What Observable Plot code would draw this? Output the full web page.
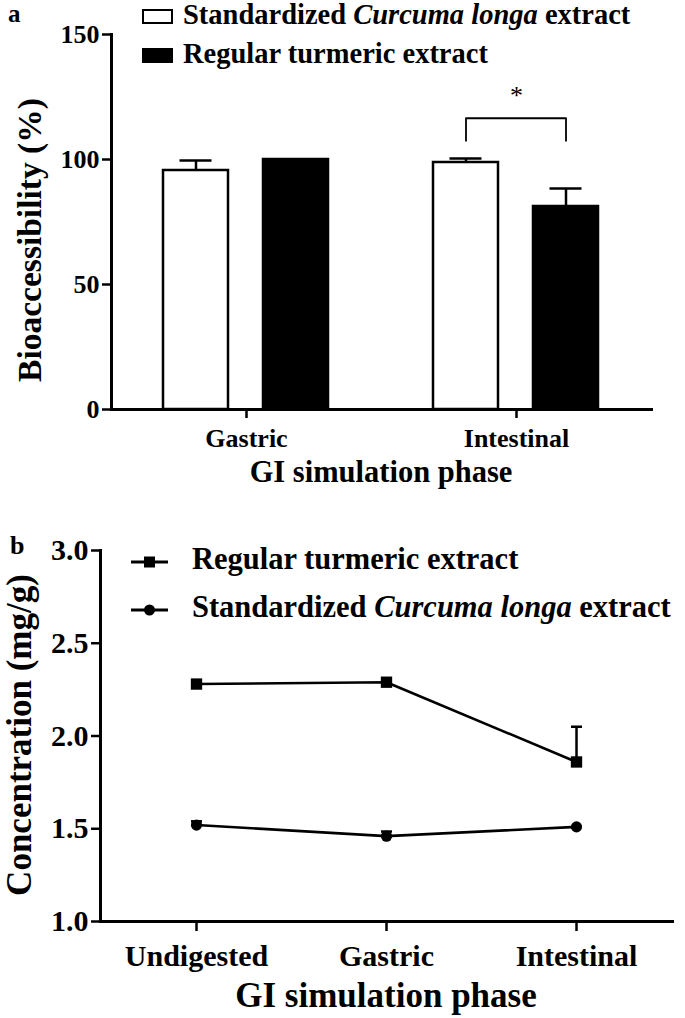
<!DOCTYPE html>
<html><head><meta charset="utf-8">
<script src="https://cdn.jsdelivr.net/npm/d3@7"></script>
<script src="https://cdn.jsdelivr.net/npm/@observablehq/plot@0.6"></script>
<style>
html,body{margin:0;padding:0;background:#fff;}
#wrap{position:relative;width:685px;height:1018px;overflow:hidden;font-family:"Liberation Serif","Times New Roman",serif;font-weight:bold;color:#000;}
.abs{position:absolute;white-space:nowrap;line-height:1.15;}
.box{position:absolute;box-sizing:border-box;border:2.5px solid #000;}
</style></head><body><div id="wrap"></div>
<script>
// ---- Panel a data ----
const phasesA = ["Gastric", "Intestinal"];
const seriesA = ["Standardized", "Regular"];
const stdMeanA = [95.6, 98.8];
const stdSdA = [4.0, 1.6];
const regMeanA = [100, 81.2];
const regSdA = [0, 7.2];
const yTicksA = [0, 50, 100, 150];
const bracketLowA = 107.5, bracketHighA = 116.5, starA = 125.5;

// ---- Panel b data ----
const phasesB = ["Undigested", "Gastric", "Intestinal"];
const regMeanB = [2.28, 2.29, 1.86];
const regSdB = [0.01, 0.01, 0.19];
const stdMeanB = [1.52, 1.46, 1.51];
const stdSdB = [0.02, 0.025, 0];
const yTicksB = [1.0, 1.5, 2.0, 2.5, 3.0];

const FONT = '"Liberation Serif","Times New Roman",serif';
const wrap = document.getElementById("wrap");

const dataA = phasesA.flatMap((p, i) => [
  {phase: p, series: "Standardized", mean: stdMeanA[i], sd: stdSdA[i]},
  {phase: p, series: "Regular", mean: regMeanA[i], sd: regSdA[i]}
]);
const errA = dataA.filter(d => d.sd > 0);
const bracket = [
  {phase: "Intestinal", series: "Standardized", y: bracketLowA},
  {phase: "Intestinal", series: "Standardized", y: bracketHighA},
  {phase: "Intestinal", series: "Regular", y: bracketHighA},
  {phase: "Intestinal", series: "Regular", y: bracketLowA}
];

const plotA = Plot.plot({
  width: 685, height: 500,
  marginLeft: 111, marginRight: 34, marginTop: 34, marginBottom: 91,
  style: {fontFamily: FONT, fontWeight: "bold", fontSize: "26px", color: "black", background: "transparent"},
  fx: {domain: phasesA, padding: 0, axis: null, label: null},
  x: {domain: seriesA, paddingInner: 0.3465, paddingOuter: 0.51, axis: null},
  y: {domain: [0, 150], axis: null},
  color: {domain: seriesA, range: ["white", "black"]},
  marks: [
    Plot.barY(dataA, {fx: "phase", x: "series", y: "mean", fill: "series", stroke: "black", strokeWidth: 2.5, inset: 0}),
    Plot.ruleX(errA, {fx: "phase", x: "series", y1: "mean", y2: d => d.mean + d.sd, stroke: "black", strokeWidth: 2.5}),
    Plot.tickY(errA, {fx: "phase", x: "series", y: d => d.mean + d.sd, stroke: "black", strokeWidth: 2.5, insetLeft: 16.5, insetRight: 16.5}),
    Plot.line(bracket, {fx: "phase", x: "series", y: "y", stroke: "black", strokeWidth: 1.8}),
    Plot.text([{phase: "Intestinal"}], {fx: "phase", y: () => starA, text: () => "*", fontSize: 26, fontWeight: "normal"}),
    Plot.frame({anchor: "bottom", stroke: "black", strokeWidth: 3, strokeLinecap: "square"}),
    Plot.frame({anchor: "left", stroke: "black", strokeWidth: 3, strokeLinecap: "square", facetAnchor: "left"}),
    Plot.axisY({ticks: yTicksA, tickSize: 9, tickPadding: 3, stroke: "black", strokeWidth: 2.5, fontSize: 26, label: null}),
    Plot.axisFx({anchor: "bottom", tickSize: 9, tickPadding: 10, stroke: "black", strokeWidth: 2.5, fontSize: 26, label: null})
  ]
});
plotA.style.position = "absolute";
plotA.style.left = "0px";
plotA.style.top = "0px";
wrap.appendChild(plotA);

// ---- Panel b ----
const dataB = phasesB.flatMap((p, i) => [
  {phase: p, series: "Regular", mean: regMeanB[i], sd: regSdB[i]},
  {phase: p, series: "Standardized", mean: stdMeanB[i], sd: stdSdB[i]}
]);
const errB = dataB.filter(d => d.sd > 0);
const capSymbol = {draw(ctx) { ctx.moveTo(-5.5, 0); ctx.lineTo(5.5, 0); }};

const plotB = Plot.plot({
  width: 685, height: 518,
  marginLeft: 100, marginRight: 13, marginTop: 50, marginBottom: 97,
  style: {fontFamily: FONT, fontWeight: "bold", fontSize: "30px", color: "black", background: "transparent"},
  x: {type: "point", domain: phasesB, padding: 0.5, axis: null},
  y: {domain: [1, 3], axis: null},
  marks: [
    Plot.ruleX(errB, {x: "phase", y1: "mean", y2: d => d.mean + d.sd, stroke: "black", strokeWidth: 2.5}),
    Plot.dot(errB, {x: "phase", y: d => d.mean + d.sd, symbol: capSymbol, r: 4, fill: "none", stroke: "black", strokeWidth: 2.5}),
    Plot.line(dataB, {x: "phase", y: "mean", z: "series", stroke: "black", strokeWidth: 2.6}),
    Plot.dot(dataB.filter(d => d.series === "Regular"), {x: "phase", y: "mean", symbol: "square", r: 6.4, fill: "black", stroke: "none"}),
    Plot.dot(dataB.filter(d => d.series === "Standardized"), {x: "phase", y: "mean", symbol: "circle", r: 5.6, fill: "black", stroke: "none"}),
    Plot.frame({anchor: "bottom", stroke: "black", strokeWidth: 3, strokeLinecap: "square"}),
    Plot.frame({anchor: "left", stroke: "black", strokeWidth: 3, strokeLinecap: "square"}),
    Plot.axisY({ticks: yTicksB, tickFormat: d3.format(".1f"), tickSize: 9, tickPadding: 3, stroke: "black", strokeWidth: 2.5, fontSize: 30, label: null}),
    Plot.axisX({tickSize: 10, tickPadding: 13, stroke: "black", strokeWidth: 2.5, fontSize: 30, label: null})
  ]
});
plotB.style.position = "absolute";
plotB.style.left = "0px";
plotB.style.top = "500px";
wrap.appendChild(plotB);

// ---- text helpers ----
// line-height 1.15: baseline sits at top + (0.075 + 0.891) * size
function textAt(html, x, baseline, size, anchor) {
  const d = document.createElement("div");
  d.className = "abs";
  d.innerHTML = html;
  d.style.fontSize = size + "px";
  d.style.top = (baseline - 0.9125 * size) + "px";
  d.style.left = x + "px";
  if (anchor === "middle") d.style.transform = "translateX(-50%)";
  wrap.appendChild(d);
  return d;
}
function vtext(txt, cx, cy, size) {
  const d = document.createElement("div");
  d.className = "abs";
  d.textContent = txt;
  d.style.fontSize = size + "px";
  d.style.lineHeight = "1";
  d.style.left = cx + "px";
  d.style.top = cy + "px";
  d.style.transform = "translate(-50%,-50%) rotate(-90deg)";
  wrap.appendChild(d);
}
function box(x, y, w, h, fill) {
  const b = document.createElement("div");
  b.className = "box";
  Object.assign(b.style, {left: x + "px", top: y + "px", width: w + "px", height: h + "px", background: fill});
  wrap.appendChild(b);
}
function lineSym(x1, x2, cy, shape) {
  const s = document.createElementNS("http://www.w3.org/2000/svg", "svg");
  s.setAttribute("width", x2 - x1 + 4); s.setAttribute("height", 20);
  Object.assign(s.style, {position: "absolute", left: (x1 - 2) + "px", top: (cy - 10) + "px"});
  const m = (x2 - x1) / 2 + 2;
  let inner = `<line x1="2" y1="10" x2="${x2 - x1 + 2}" y2="10" stroke="black" stroke-width="3"/>`;
  inner += shape === "square" ? `<rect x="${m - 5.5}" y="4.5" width="11" height="11" fill="black"/>` : `<circle cx="${m}" cy="10" r="5.5" fill="black"/>`;
  s.innerHTML = inner;
  wrap.appendChild(s);
}

// panel labels
textAt("a", 8, 22.5, 25);
textAt("b", 10, 555, 26);

// panel a legend
box(142, 9, 31, 15, "white");
box(142, 48, 31, 15, "black");
textAt("Standardized <i>Curcuma longa</i> extract", 183, 25, 28.5);
textAt("Regular turmeric extract", 183, 64, 28.5);

// panel a titles
textAt("GI simulation phase", 381, 483, 30.5, "middle");
vtext("Bioaccessibility (%)", 30, 240, 33.5);

// panel b legend
lineSym(131, 168, 562, "square");
lineSym(131, 168, 610, "circle");
textAt("Regular turmeric extract", 192, 570, 30.5);
textAt("Standardized <i>Curcuma longa</i> extract", 192, 618, 30.5);

// panel b titles
textAt("GI simulation phase", 386, 1008, 35, "middle");
vtext("Concentration (mg/g)", 19, 735, 35);
</script></body></html>
